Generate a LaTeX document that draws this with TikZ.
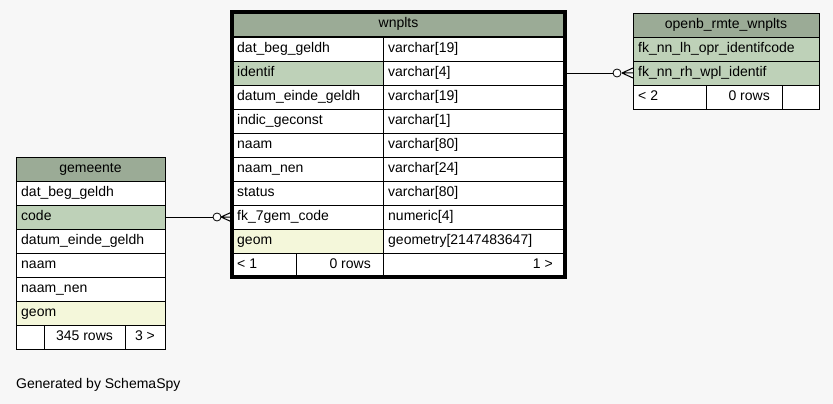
\documentclass[tikz,border=0pt]{standalone}
\usepackage{fontspec}
\setmainfont{Liberation Sans}
\begin{document}
\begin{tikzpicture}[x=1pt,y=-1pt,
  box/.style={draw=black, line width=0.8pt, anchor=north west, minimum height=24pt, inner sep=0pt, outer sep=0pt},
  txt/.style={inner sep=0pt, font=\fontsize{14}{16}\selectfont, text height=10pt, text depth=3pt},
  hdr/.style={fill=hdrc},
  keyrow/.style={fill=keyc},
  georow/.style={fill=geoc},
  plain/.style={fill=white},
  conn/.style={draw=black, line width=0.8pt},
  crow/.style={draw=black, line width=1pt}]
\definecolor{bgc}{HTML}{F7F7F7}
\definecolor{hdrc}{HTML}{9BAB96}
\definecolor{keyc}{HTML}{BED1B8}
\definecolor{geoc}{HTML}{F4F7DA}
\fill[bgc] (0,0) rectangle (833,404);
\useasboundingbox (0,0) rectangle (833,404);

% left-aligned cell: name, x, y, width, style, text
\newcommand\cellL[6]{\node[box,#5,minimum width=#4pt] (#1) at (#2,#3) {};
  \node[txt,anchor=west] (#1-t) at ([xshift=5pt]#1.west) {#6};}
\newcommand\cellC[6]{\node[box,#5,minimum width=#4pt] (#1) at (#2,#3) {};
  \node[txt] (#1-t) at (#1.center) {#6};}
\newcommand\cellR[6]{\node[box,#5,minimum width=#4pt] (#1) at (#2,#3) {};
  \node[txt,anchor=east] (#1-t) at ([xshift=-12pt]#1.east) {#6};}

% ---------- wnplts ----------
\cellC{wh}{232}{12}{333}{hdr}{wnplts}
\cellL{w1a}{232}{37}{151}{plain}{dat\_beg\_geldh}
\cellL{w1b}{383}{37}{182}{plain}{varchar[19]}
\cellL{w2a}{232}{61}{151}{keyrow}{identif}
\cellL{w2b}{383}{61}{182}{plain}{varchar[4]}
\cellL{w3a}{232}{85}{151}{plain}{datum\_einde\_geldh}
\cellL{w3b}{383}{85}{182}{plain}{varchar[19]}
\cellL{w4a}{232}{109}{151}{plain}{indic\_geconst}
\cellL{w4b}{383}{109}{182}{plain}{varchar[1]}
\cellL{w5a}{232}{133}{151}{plain}{naam}
\cellL{w5b}{383}{133}{182}{plain}{varchar[80]}
\cellL{w6a}{232}{157}{151}{plain}{naam\_nen}
\cellL{w6b}{383}{157}{182}{plain}{varchar[24]}
\cellL{w7a}{232}{181}{151}{plain}{status}
\cellL{w7b}{383}{181}{182}{plain}{varchar[80]}
\cellL{w8a}{232}{205}{151}{plain}{fk\_7gem\_code}
\cellL{w8b}{383}{205}{182}{plain}{numeric[4]}
\cellL{w9a}{232}{229}{151}{georow}{geom}
\cellL{w9b}{383}{229}{182}{plain}{geometry[2147483647]}
\cellL{wfa}{232}{253}{64}{plain}{< 1}
\cellR{wfb}{296}{253}{87}{plain}{0 rows}
\cellR{wfc}{383}{253}{182}{plain}{1 >}
\draw[line width=3.2pt] (wh.north west) rectangle (wfc.south east);

% ---------- openb_rmte_wnplts ----------
\cellC{oh}{633}{13}{186}{hdr}{openb\_rmte\_wnplts}
\cellL{o1}{633}{37}{186}{keyrow}{fk\_nn\_lh\_opr\_identifcode}
\cellL{o2}{633}{61}{186}{keyrow}{fk\_nn\_rh\_wpl\_identif}
\cellL{ofa}{633}{85}{73}{plain}{< 2}
\cellR{ofb}{706}{85}{76}{plain}{0 rows}
\cellL{ofc}{782}{85}{37}{plain}{}

% ---------- gemeente ----------
\cellC{gh}{16}{157}{149}{hdr}{gemeente}
\cellL{g1}{16}{181}{149}{plain}{dat\_beg\_geldh}
\cellL{g2}{16}{205}{149}{keyrow}{code}
\cellL{g3}{16}{229}{149}{plain}{datum\_einde\_geldh}
\cellL{g4}{16}{253}{149}{plain}{naam}
\cellL{g5}{16}{277}{149}{plain}{naam\_nen}
\cellL{g6}{16}{301}{149}{georow}{geom}
\cellL{gfa}{16}{325}{28}{plain}{}
\cellC{gfb}{44}{325}{81}{plain}{345 rows}
\cellC{gfc}{125}{325}{40}{plain}{3 >}

% ---------- connectors ----------
\coordinate (c1) at ([xshift=-15pt]w8a.west);
\coordinate (k1) at ([xshift=-11pt]w8a.west);
\draw[conn] (g2.east) -- ([xshift=-4pt]c1);
\draw[conn,fill=white] (c1) circle (4pt);
\draw[crow] (k1) -- ([yshift=-5pt]w8a.west) (k1) -- (w8a.west) (k1) -- ([yshift=5pt]w8a.west);

\coordinate (c2) at ([xshift=-16pt]o2.west);
\coordinate (k2) at ([xshift=-11pt]o2.west);
\draw[conn] (w2b.east) -- ([xshift=-4pt]c2);
\draw[conn,fill=white] (c2) circle (4pt);
\draw[crow] (k2) -- ([yshift=-5pt]o2.west) (k2) -- (o2.west) (k2) -- ([yshift=5pt]o2.west);

\node[txt,anchor=base west] (gen) at (16,388) {Generated by SchemaSpy};
\end{tikzpicture}
\end{document}
